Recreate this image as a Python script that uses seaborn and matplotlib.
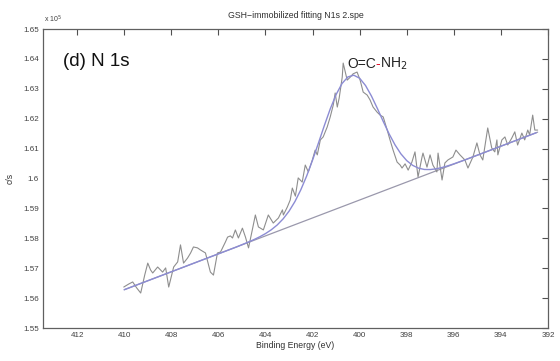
import matplotlib
matplotlib.use("Agg")
import matplotlib.pyplot as plt
from matplotlib.ticker import FuncFormatter, FixedLocator
import seaborn as sns
import pandas as pd

# ---- data (counts in units of 1e5 c/s) ----
energy = [410.02, 409.81, 409.64, 409.47, 409.30, 409.13, 409.00, 408.88, 408.79, 408.58,
          408.37, 408.24, 408.11, 407.90, 407.73, 407.61, 407.48, 407.31, 407.18, 407.06,
          406.89, 406.76, 406.55, 406.34, 406.21, 406.04, 405.91, 405.70, 405.61, 405.49,
          405.40, 405.28, 405.15, 404.98, 404.85, 404.72, 404.56, 404.43, 404.30, 404.09,
          403.88, 403.67, 403.45, 403.28, 403.24, 403.07, 402.95, 402.86, 402.73, 402.61,
          402.44, 402.31, 402.18, 402.01, 401.89, 401.80, 401.67, 401.55, 401.38, 401.25,
          401.12, 401.04, 400.95, 400.87, 400.74, 400.70, 400.61, 400.53, 400.40, 400.28,
          400.11, 399.98, 399.85, 399.68, 399.56, 399.43, 399.26, 399.13, 399.00, 398.83,
          398.71, 398.58, 398.41, 398.28, 398.20, 398.07, 397.94, 397.78, 397.65, 397.52,
          397.35, 397.31, 397.14, 397.01, 396.89, 396.72, 396.67, 396.50, 396.38, 396.25,
          396.04, 395.91, 395.74, 395.53, 395.40, 395.19, 395.02, 394.89, 394.77, 394.56,
          394.39, 394.26, 394.17, 394.13, 393.96, 393.83, 393.71, 393.54, 393.41, 393.29,
          393.11, 392.99, 392.86, 392.78, 392.65, 392.56, 392.44]
counts = [1.5637, 1.5647, 1.5654, 1.5634, 1.5617, 1.5677, 1.5717, 1.5694, 1.5684, 1.5704,
          1.5687, 1.5701, 1.5637, 1.5704, 1.5721, 1.5778, 1.5717, 1.5734, 1.5751, 1.5771,
          1.5768, 1.5761, 1.5751, 1.5687, 1.5677, 1.5751, 1.5754, 1.5788, 1.5804, 1.5808,
          1.5801, 1.5828, 1.5801, 1.5834, 1.5804, 1.5768, 1.5828, 1.5878, 1.5838, 1.5828,
          1.5878, 1.5851, 1.5868, 1.5895, 1.5878, 1.5905, 1.5928, 1.5968, 1.5941, 1.6002,
          1.5988, 1.6045, 1.6022, 1.6062, 1.6095, 1.6079, 1.6129, 1.6139, 1.6172, 1.6206,
          1.6246, 1.6286, 1.6239, 1.6269, 1.6339, 1.6386, 1.6356, 1.6329, 1.6339, 1.6350,
          1.6356, 1.6329, 1.6289, 1.6279, 1.6263, 1.6239, 1.6222, 1.6212, 1.6206, 1.6162,
          1.6129, 1.6095, 1.6055, 1.6045, 1.6035, 1.6049, 1.6028, 1.6055, 1.6089, 1.6005,
          1.6072, 1.6085, 1.6038, 1.6079, 1.6045, 1.6022, 1.6085, 1.5995, 1.6052, 1.6062,
          1.6072, 1.6095, 1.6079, 1.6062, 1.6035, 1.6072, 1.6119, 1.6079, 1.6062, 1.6169,
          1.6102, 1.6089, 1.6129, 1.6079, 1.6129, 1.6139, 1.6112, 1.6135, 1.6156, 1.6112,
          1.6152, 1.6129, 1.6162, 1.6146, 1.6212, 1.6162, 1.6162]

fit_energy = [410.0, 409.75, 409.5, 409.25, 409.0, 408.75, 408.5, 408.25, 408.0, 407.75,
              407.5, 407.25, 407.0, 406.75, 406.5, 406.25, 406.0, 405.75, 405.5, 405.25,
              405.0, 404.75, 404.5, 404.25, 404.0, 403.75, 403.5, 403.25, 403.0, 402.75,
              402.5, 402.25, 402.0, 401.75, 401.5, 401.25, 401.0, 400.75, 400.5, 400.25,
              400.0, 399.75, 399.5, 399.25, 399.0, 398.75, 398.5, 398.25, 398.0, 397.75,
              397.5, 397.25, 397.0, 396.75, 396.5, 396.25, 396.0, 395.75, 395.5, 395.25,
              395.0, 394.75, 394.5, 394.25, 394.0, 393.75, 393.5, 393.25, 393.0, 392.75,
              392.5]
fit_counts = [1.5628, 1.56355, 1.5643, 1.56505, 1.5658, 1.56655, 1.5673, 1.56805, 1.5688, 1.56955,
              1.5703, 1.57105, 1.5718, 1.57255, 1.5733, 1.57405, 1.5748, 1.57555, 1.5763, 1.57705,
              1.57786, 1.57867, 1.57953, 1.58048, 1.58157, 1.58287, 1.58447, 1.5865, 1.58906, 1.59228,
              1.59621, 1.60086, 1.60615, 1.61188, 1.61771, 1.62326, 1.62808, 1.63175, 1.63397, 1.63455,
              1.63353, 1.63109, 1.62759, 1.62346, 1.61911, 1.61495, 1.61128, 1.60826, 1.60598, 1.6044,
              1.60346, 1.60302, 1.60299, 1.60324, 1.60368, 1.60425, 1.6049, 1.6056, 1.6063, 1.60705,
              1.6078, 1.60855, 1.6093, 1.61005, 1.6108, 1.61155, 1.6123, 1.61305, 1.6138, 1.61455,
              1.6153]

baseline_energy = [410.0, 392.44]
baseline_counts = [1.5628, 1.6155]

x_ticks = [412, 410, 408, 406, 404, 402, 400, 398, 396, 394, 392]
y_ticks = [1.55, 1.56, 1.57, 1.58, 1.59, 1.60, 1.61, 1.62, 1.63, 1.64, 1.65]

# ---- plot ----
sns.set_style("white")
plt.rcParams['font.family'] = ['Liberation Sans', 'DejaVu Sans']

fig = plt.figure(figsize=(5.6, 3.61), dpi=100)
ax = fig.add_axes([43/560, 1-328/361, (548-43)/560, (328-29)/361])

df_raw = pd.DataFrame({"E": energy, "c": counts})
df_fit = pd.DataFrame({"E": fit_energy, "c": fit_counts})
df_bg = pd.DataFrame({"E": baseline_energy, "c": baseline_counts})

sns.lineplot(data=df_bg, x="E", y="c", ax=ax, color="#9a98ac", lw=0.9, sort=False)
sns.lineplot(data=df_raw, x="E", y="c", ax=ax, color="#8e8e8e", lw=0.8, sort=False)
sns.lineplot(data=df_fit, x="E", y="c", ax=ax, color="#8c8cd4", lw=1.0, sort=False)

ax.set_xlim(413.45, 392.0)
ax.set_ylim(1.55, 1.65)
ax.xaxis.set_major_locator(FixedLocator(x_ticks))
ax.yaxis.set_major_locator(FixedLocator(y_ticks))
ax.yaxis.set_major_formatter(FuncFormatter(lambda v, p: "%g" % round(v, 2)))
ax.tick_params(direction="in", top=True, right=True, length=4, width=0.8,
               color="#505050", labelsize=5.8, labelcolor="#404040", pad=3)
for s in ax.spines.values():
    s.set_color("#606060")
    s.set_linewidth(0.9)

ax.set_xlabel("Binding Energy (eV)", fontsize=6.2, color="#303030", labelpad=1)
ax.set_ylabel("c/s", fontsize=6.2, color="#303030", labelpad=6)
ax.set_title("GSH\u2212immobilized fitting N1s 2.spe", fontsize=6.3, color="#303030", pad=8)

fig.text(44/560, 1-19/361, "x 10$^5$", fontsize=5, color="#404040", va="center", ha="left")

fig.text(63/560, 1-61/361, "(d) N 1s", fontsize=13.5, color="#111111", va="center", ha="left")

# O=C-NH2 label with red bond
renderer = fig.canvas.get_renderer()
base_y = 1 - 68/361
t1 = fig.text(347/560, base_y, "O=C", fontsize=10, color="#222222", va="baseline", ha="left")
x_next = t1.get_window_extent(renderer).x1 / fig.bbox.width
t2 = fig.text(x_next, base_y, "-", fontsize=10, color="#e0102a", va="baseline", ha="left")
x_next = t2.get_window_extent(renderer).x1 / fig.bbox.width
fig.text(x_next, base_y, "NH$_2$", fontsize=10, color="#222222", va="baseline", ha="left")

fig.savefig("out.png", dpi=100)
